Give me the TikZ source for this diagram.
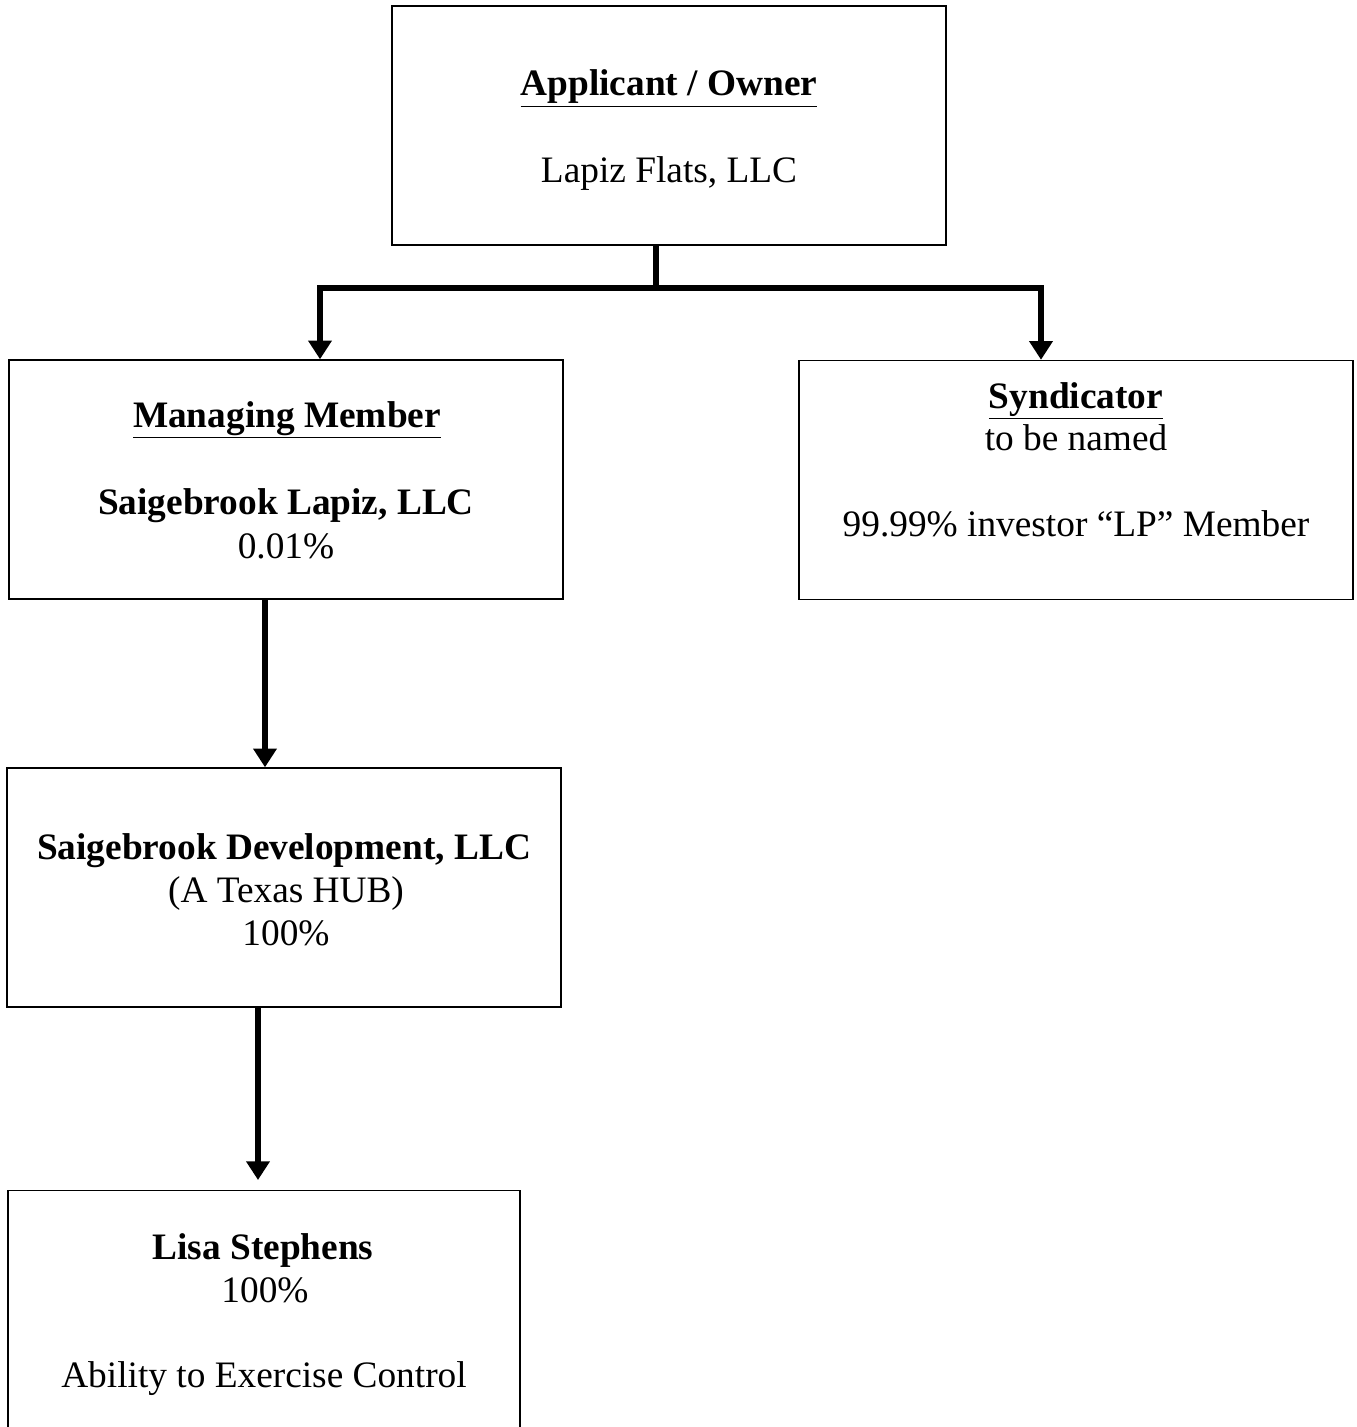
\documentclass[tikz,border=0pt]{standalone}
\usepackage{fontspec}
\setmainfont{Liberation Serif}
\usetikzlibrary{arrows.meta}
\tikzset{
  box/.style={draw, line width=1.1pt, inner sep=0pt, minimum width=415.5pt, minimum height=179.25pt},
  txt/.style={anchor=base, inner sep=0pt, font=\fontsize{28}{32}\selectfont},
  conn/.style={line width=4.3pt},
  arr/.style={line width=4.3pt, -{Triangle[width=17pt,length=14pt]}}
}
\begin{document}
\begin{tikzpicture}[x=0.75pt,y=-0.75pt]
\useasboundingbox (0,0) rectangle (1356,1427);
\clip (0,0) rectangle (1356,1427);
% boxes
\node[box] (top) at (669,125.5) {};
\node[box] (mm) at (286,479.5) {};
\node[box] (syn) at (1076,480) {};
\node[box] (dev) at (284,887.5) {};
\node[box, minimum width=384pt] (lisa) at (264,1310) {};
% texts
\node[txt] (t1) at (669,96) {\textbf{\underline{Applicant / Owner}}};
\node[txt] (t2) at (669,182) {Lapiz Flats, LLC};
\node[txt] (m1) at (287,427) {\textbf{\underline{Managing Member}}};
\node[txt] (m2) at (286,514) {\textbf{Saigebrook Lapiz, LLC}};
\node[txt] (m3) at (286,558) {0.01\%};
\node[txt] (s1) at (1076,408) {\textbf{\underline{Syndicator}}};
\node[txt] (s2) at (1076,450) {to be named};
\node[txt] (s3) at (1076,536) {99.99\% investor “LP” Member};
\node[txt] (d1) at (284,859) {\textbf{Saigebrook Development, LLC}};
\node[txt] (d2) at (286,902) {(A Texas HUB)};
\node[txt] (d3) at (286,945) {100\%};
\node[txt] (l1) at (263,1259) {\textbf{Lisa Stephens}};
\node[txt] (l2) at (265,1302) {100\%};
\node[txt] (l3) at (264,1387) {Ability to Exercise Control};
% connectors
\coordinate (j) at (656,288);
\coordinate (jl) at (320,288);
\coordinate (jr) at (1041,288);
\coordinate (md) at (265,600);
\coordinate (dl) at (258,1007);
\coordinate (le) at (258,1180);
\draw[conn] (top.south -| j) -- ([yshift=-2.15pt]j);
\draw[arr] (j) -- (jl) -- (jl |- mm.north);
\draw[arr] (j) -- (jr) -- (jr |- syn.north);
\draw[arr] (md |- mm.south) -- (md |- dev.north);
\draw[arr] (dl |- dev.south) -- (le);
\end{tikzpicture}
\end{document}
